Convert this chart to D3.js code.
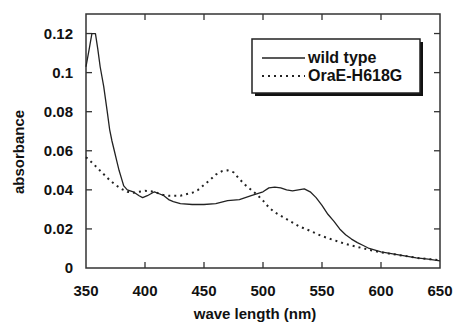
<!DOCTYPE html>
<html>
<head>
<meta charset="utf-8">
<script src="https://cdn.jsdelivr.net/npm/d3@7"></script>
<style>
  body { margin: 0; background: #fff; }
  svg text { font-family: "Liberation Sans", Arial, sans-serif; font-weight: bold; fill: #111; }
</style>
</head>
<body>
<svg id="chart" width="454" height="325"></svg>
<script>
// wavelength (nm) / absorbance
var wildWave = [350, 353, 355, 358, 360, 362, 365, 368, 370, 372, 374, 376, 378, 380, 382, 385, 390, 395, 398, 402, 405, 408, 412, 416, 420, 424, 430, 440, 450, 460, 470, 480, 490, 500, 505, 510, 515, 520, 525, 530, 535, 540, 545, 550, 555, 560, 565, 570, 575, 580, 585, 590, 600, 610, 620, 630, 640, 650];
var wildAbs  = [0.103, 0.113, 0.120, 0.120, 0.112, 0.103, 0.093, 0.080, 0.071, 0.065, 0.060, 0.055, 0.050, 0.046, 0.042, 0.040, 0.039, 0.037, 0.036, 0.037, 0.038, 0.039, 0.038, 0.037, 0.035, 0.034, 0.033, 0.0325, 0.0325, 0.033, 0.0345, 0.035, 0.037, 0.039, 0.041, 0.0414, 0.041, 0.040, 0.0395, 0.040, 0.0405, 0.039, 0.036, 0.032, 0.0275, 0.024, 0.020, 0.017, 0.0148, 0.013, 0.0115, 0.010, 0.0083, 0.0072, 0.0062, 0.0052, 0.0045, 0.0037];

var mutWave = [350, 355, 360, 365, 370, 375, 380, 385, 390, 395, 400, 405, 410, 415, 420, 430, 440, 445, 450, 455, 460, 465, 470, 475, 480, 485, 490, 495, 500, 505, 510, 520, 530, 540, 550, 560, 570, 580, 590, 600, 610, 620, 630, 640, 650];
var mutAbs  = [0.0567, 0.054, 0.051, 0.048, 0.045, 0.0425, 0.0405, 0.039, 0.0385, 0.039, 0.0395, 0.0393, 0.0385, 0.0375, 0.037, 0.037, 0.0385, 0.040, 0.0425, 0.045, 0.0478, 0.0495, 0.050, 0.049, 0.0455, 0.0425, 0.040, 0.0375, 0.0345, 0.031, 0.0285, 0.025, 0.0215, 0.019, 0.0163, 0.0143, 0.0123, 0.0108, 0.0093, 0.008, 0.0071, 0.0062, 0.0052, 0.0046, 0.004];

var xTicks = [350, 400, 450, 500, 550, 600, 650];
var yTicks = [0, 0.02, 0.04, 0.06, 0.08, 0.1, 0.12];
var legendNames = ['wild type', 'OraE-H618G'];

var svg = d3.select('#chart');
var plotL = 86, plotR = 440, plotT = 14, plotB = 268;

var x = d3.scaleLinear().domain([350, 650]).range([plotL, plotR]);
var y = d3.scaleLinear().domain([0, 0.13]).range([plotB, plotT]);

// frame
svg.append('rect')
  .attr('x', plotL).attr('y', plotT)
  .attr('width', plotR - plotL).attr('height', plotB - plotT)
  .attr('fill', 'none').attr('stroke', '#333').attr('stroke-width', 1.5);

// inward ticks on all four sides, labels only bottom/left
var tickLen = 6;
var innerX = xTicks.slice(1, -1);
var innerY = yTicks.filter(function (d) { return d > 0; });

var ticks = svg.append('g').attr('stroke', '#333').attr('stroke-width', 1.3);
innerX.forEach(function (d) {
  ticks.append('line').attr('x1', x(d)).attr('x2', x(d)).attr('y1', plotB).attr('y2', plotB - tickLen);
  ticks.append('line').attr('x1', x(d)).attr('x2', x(d)).attr('y1', plotT).attr('y2', plotT + tickLen);
});
innerY.forEach(function (d) {
  ticks.append('line').attr('x1', plotL).attr('x2', plotL + tickLen).attr('y1', y(d)).attr('y2', y(d));
  ticks.append('line').attr('x1', plotR).attr('x2', plotR - tickLen).attr('y1', y(d)).attr('y2', y(d));
});

svg.append('g').selectAll('text').data(xTicks).enter().append('text')
  .attr('x', function (d) { return x(d); })
  .attr('y', 296)
  .attr('text-anchor', 'middle')
  .attr('font-size', 15)
  .text(function (d) { return d; });

svg.append('g').selectAll('text').data(yTicks).enter().append('text')
  .attr('x', 73)
  .attr('y', function (d) { return y(d) + 5; })
  .attr('text-anchor', 'end')
  .attr('font-size', 15)
  .text(function (d) { return d === 0 ? '0' : String(d); });

// axis titles
svg.append('text')
  .attr('x', 255).attr('y', 319)
  .attr('text-anchor', 'middle')
  .attr('font-size', 15)
  .text('wave length (nm)');

svg.append('text')
  .attr('transform', 'translate(24,152) rotate(-90)')
  .attr('text-anchor', 'middle')
  .attr('font-size', 15)
  .text('absorbance');

// spectra
var line = d3.line()
  .x(function (d) { return x(d[0]); })
  .y(function (d) { return y(d[1]); });

svg.append('path')
  .datum(d3.zip(mutWave, mutAbs))
  .attr('d', line)
  .attr('fill', 'none')
  .attr('stroke', '#222')
  .attr('stroke-width', 2)
  .attr('stroke-dasharray', '2,4');

svg.append('path')
  .datum(d3.zip(wildWave, wildAbs))
  .attr('d', line)
  .attr('fill', 'none')
  .attr('stroke', '#222')
  .attr('stroke-width', 1.3)
  .attr('stroke-linejoin', 'round');

// legend box with drop shadow
var lg = svg.append('g');
lg.append('rect')
  .attr('x', 255).attr('y', 42).attr('width', 168).attr('height', 54)
  .attr('fill', '#111');
lg.append('rect')
  .attr('x', 252).attr('y', 39).attr('width', 168).attr('height', 54)
  .attr('fill', '#fff').attr('stroke', '#222').attr('stroke-width', 1.5);

var styles = [{ w: 1.3, dash: null }, { w: 2, dash: '2,4' }];
legendNames.forEach(function (name, i) {
  var ly = 58 + i * 18;
  lg.append('line')
    .attr('x1', 262).attr('x2', 305).attr('y1', ly).attr('y2', ly)
    .attr('stroke', '#222').attr('stroke-width', styles[i].w)
    .attr('stroke-dasharray', styles[i].dash);
  lg.append('text')
    .attr('x', 308).attr('y', ly + 5)
    .attr('font-size', 16)
    .text(name);
});
</script>
</body>
</html>
